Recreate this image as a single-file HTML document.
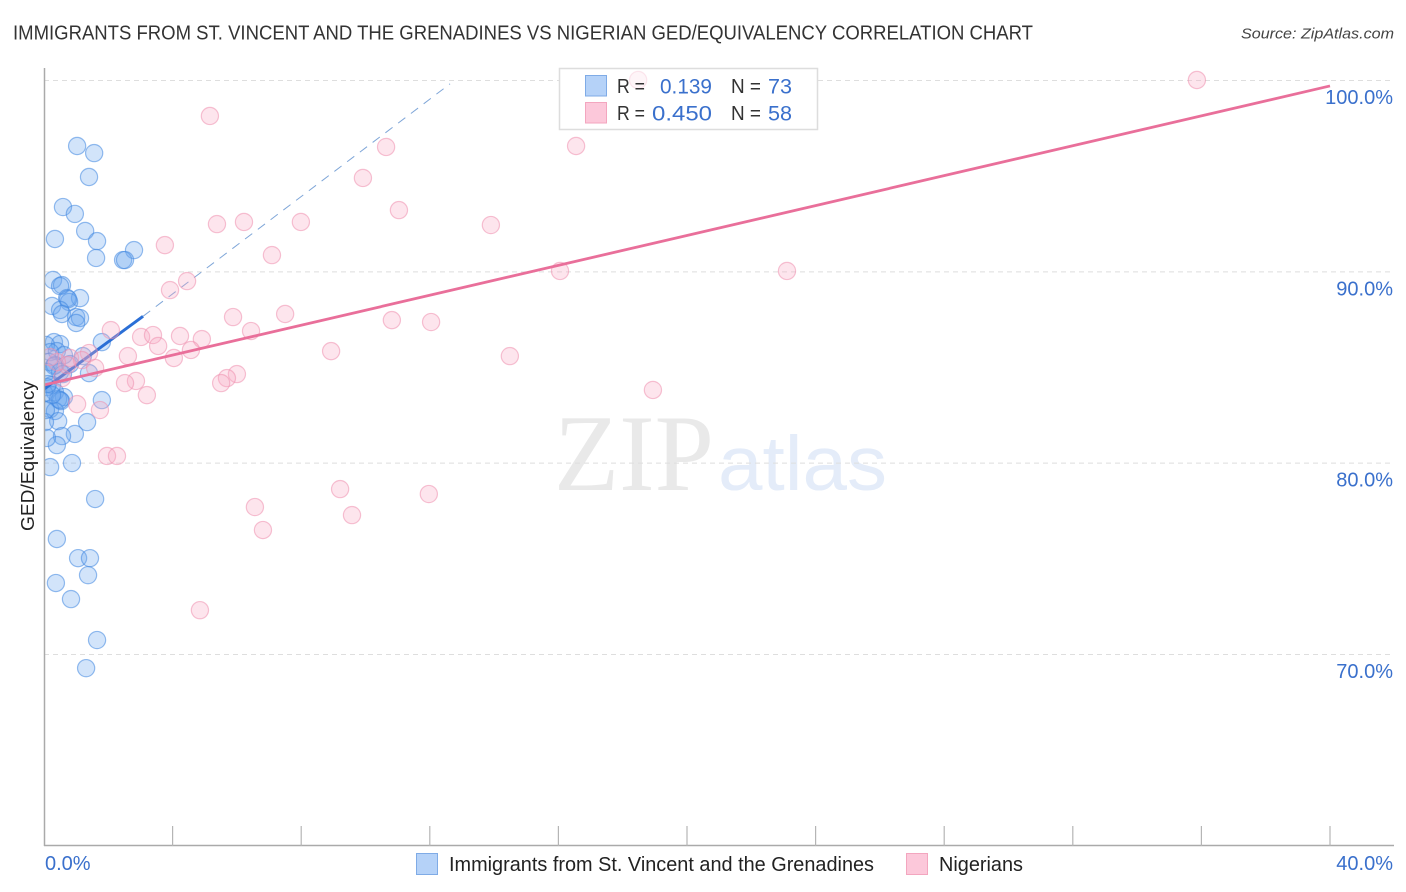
<!DOCTYPE html>
<html lang="en">
<head>
<meta charset="utf-8">
<title>GED/Equivalency Correlation Chart</title>
<style>
html,body{margin:0;padding:0;background:#fff;width:1406px;height:892px;overflow:hidden}
svg{display:block;font-family:"Liberation Sans",sans-serif}
</style>
</head>
<body>
<svg id="chart" width="1406" height="892" viewBox="0 0 1406 892" xmlns="http://www.w3.org/2000/svg">
  <rect width="1406" height="892" fill="#fff"/>
  <text x="13" y="39.5" font-size="20" fill="#333" textLength="1020" lengthAdjust="spacingAndGlyphs">IMMIGRANTS FROM ST. VINCENT AND THE GRENADINES VS NIGERIAN GED/EQUIVALENCY CORRELATION CHART</text>
  <text x="1241" y="38.5" font-size="15" font-style="italic" fill="#444" textLength="153" lengthAdjust="spacingAndGlyphs">Source: ZipAtlas.com</text>
  <g>
    <text x="554" y="490" font-family="'Liberation Serif',serif" font-size="109" fill="#e9e9e9" textLength="160" lengthAdjust="spacingAndGlyphs">ZIP</text>
    <text x="718" y="490" font-size="77" fill="#e4ecf9" textLength="169" lengthAdjust="spacingAndGlyphs">atlas</text>
  </g>
  <g id="grid"></g>
  <rect x="559" y="68" width="259" height="62" fill="#fff"/>
  <clipPath id="plot-clip"><rect x="44" y="60" width="1350" height="786"/></clipPath>
  <g id="plot" clip-path="url(#plot-clip)"></g>
  <g id="axes"></g>
  <text transform="translate(34,531) rotate(-90)" font-size="18" fill="#222" textLength="150" lengthAdjust="spacingAndGlyphs">GED/Equivalency</text>

  <g font-size="20">
    <rect x="559.5" y="68.5" width="258" height="61" fill="#fff" fill-opacity="0.6" stroke="#ddd" stroke-width="1.5"/>
    <rect x="585.5" y="75.5" width="21" height="20.5" fill="#b5d2f8" stroke="#7fabe6"/>
    <rect x="585.5" y="102.5" width="21" height="20.5" fill="#fcc8da" stroke="#f3a6bf"/>
    <text x="617" y="93" fill="#333" textLength="28" lengthAdjust="spacingAndGlyphs">R =</text>
    <text x="660" y="93.5" fill="#3a70cc" font-size="21.5" textLength="52" lengthAdjust="spacingAndGlyphs">0.139</text>
    <text x="731" y="93" fill="#333" textLength="30" lengthAdjust="spacingAndGlyphs">N =</text>
    <text x="768" y="93.5" fill="#3a70cc" font-size="21.5" textLength="24" lengthAdjust="spacingAndGlyphs">73</text>
    <text x="617" y="120" fill="#333" textLength="28" lengthAdjust="spacingAndGlyphs">R =</text>
    <text x="652" y="120.5" fill="#3a70cc" font-size="21.5" textLength="60" lengthAdjust="spacingAndGlyphs">0.450</text>
    <text x="731" y="120" fill="#333" textLength="30" lengthAdjust="spacingAndGlyphs">N =</text>
    <text x="768" y="120.5" fill="#3a70cc" font-size="21.5" textLength="24" lengthAdjust="spacingAndGlyphs">58</text>
  </g>

  <g font-size="20" fill="#222">
    <rect x="416.5" y="853.5" width="21" height="21" fill="#b5d2f8" stroke="#7fabe6"/>
    <text x="449" y="871" textLength="425" lengthAdjust="spacingAndGlyphs">Immigrants from St. Vincent and the Grenadines</text>
    <rect x="906.5" y="853.5" width="21" height="21" fill="#fcc8da" stroke="#f3a6bf"/>
    <text x="939" y="871" textLength="84" lengthAdjust="spacingAndGlyphs">Nigerians</text>
  </g>
</svg>
<script>
const yTickValues = [100, 90, 80, 70];
const yTickLabels = ["100.0%", "90.0%", "80.0%", "70.0%"];
const xTickValues = [0, 4, 8, 12, 16, 20, 24, 28, 32, 36, 40];
const xEndLabels = ["0.0%", "40.0%"];

const immigrantsX = [1.03,1.56,1.40,0.59,0.96,1.28,0.34,1.65,2.80,1.62,2.46,2.52,0.28,0.56,0.50,0.72,1.12,0.25,0.78,0.75,0.50,0.56,1.00,1.12,1.00,1.80,0.31,0.50,0.06,0.40,0.19,0.62,1.21,0.16,0.31,0.34,0.81,0.50,0.59,1.40,0.09,0.25,0.09,0.34,0.00,0.62,0.44,1.80,0.53,0.19,0.34,1.34,0.44,0.03,0.96,0.56,0.40,0.09,0.87,0.19,1.59,0.40,1.06,1.43,1.37,0.37,0.84,1.65,1.31,0.50,0.25,0.12,0.06];
const immigrantsY = [96.55,96.18,94.93,93.36,93.00,92.11,91.69,91.58,91.11,90.70,90.59,90.59,89.55,89.28,89.23,88.60,88.60,88.19,88.40,88.55,87.98,87.77,87.61,87.56,87.30,86.30,86.30,86.20,86.15,85.83,85.78,85.62,85.57,85.26,85.05,85.10,85.15,84.74,84.63,84.68,84.74,84.06,83.95,83.69,83.64,83.43,83.32,83.27,83.22,82.80,82.70,82.12,82.17,82.12,81.50,81.39,80.92,81.29,79.98,79.77,78.10,76.01,75.01,75.01,74.12,73.71,72.87,70.73,69.26,83.27,83.53,84.11,82.75];

const nigeriansX = [18.48,35.86,5.16,16.55,10.64,9.92,11.04,6.22,5.38,7.99,13.90,3.76,7.09,4.45,3.92,16.05,23.11,5.88,7.50,10.82,12.04,2.08,6.44,3.02,3.39,4.23,4.91,3.55,4.57,8.93,14.49,2.61,4.04,1.40,0.81,1.18,1.59,6.00,5.69,5.51,2.86,2.52,18.94,3.20,1.03,1.74,1.96,2.27,11.97,9.21,6.56,9.58,6.81,4.85,0.56,0.72,0.40,0.19];
const nigeriansY = [100.00,100.00,98.12,96.55,96.50,94.88,93.20,92.58,92.47,92.58,92.42,91.37,90.85,89.49,89.02,90.02,90.02,87.61,87.77,87.45,87.35,86.93,86.88,86.57,86.67,86.62,86.46,86.10,85.89,85.83,85.57,85.57,85.47,85.73,85.47,85.36,84.95,84.63,84.42,84.16,84.27,84.16,83.80,83.53,83.06,82.75,80.35,80.35,78.36,78.62,77.68,77.26,76.48,72.29,84.42,85.10,85.26,85.52];

const immigrantsTrendX = [0, 3.08, 12.63];
const immigrantsTrendY = [83.85, 87.65, 99.80];
const nigeriansTrendX = [0, 40];
const nigeriansTrendY = [84.06, 99.69];

const NS = "http://www.w3.org/2000/svg";
function xScale(v){ return 44 + v * (1330 - 44) / 40; }
function yScale(v){ return 80 + (100 - v) * (654 - 80) / 30; }

function make(tag, attrs, parent){
  const el = document.createElementNS(NS, tag);
  for (const k in attrs) el.setAttribute(k, attrs[k]);
  parent.appendChild(el);
  return el;
}

const gridG = document.getElementById("grid");
const plotG = document.getElementById("plot");
const axesG = document.getElementById("axes");

yTickValues.forEach(function(v, i){
  const line = make("line", {x1:44, x2:1394, y1:yScale(v)+0.5, y2:yScale(v)+0.5, stroke:"#dedede", "stroke-width":1, "stroke-dasharray":"5 4"}, gridG);
  
  
  const label = make("text", {x:1393, y:yScale(v)+24, "text-anchor":"end", "font-size":20, fill:"#3a70cc"}, axesG);
  label.textContent = yTickLabels[i];
  
  
});

const yAxis = make("line", {x1:44.5, x2:44.5, y1:68, y2:846, stroke:"#aaa", "stroke-width":1.5}, axesG);


const xAxis = make("line", {x1:44, x2:1394, y1:845.5, y2:845.5, stroke:"#aaa", "stroke-width":1.5}, axesG);



xTickValues.forEach(function(v){
  if (v === 0) return;
  const tick = make("line", {x1:xScale(v), x2:xScale(v), y1:826, y2:846, stroke:"#b5b5b5", "stroke-width":1.2}, axesG);
  
  
});

const x0Label = make("text", {x:45, y:870, "font-size":20, fill:"#3a70cc"}, axesG);
x0Label.textContent = xEndLabels[0];


const x1Label = make("text", {x:1393, y:870, "text-anchor":"end", "font-size":20, fill:"#3a70cc"}, axesG);
x1Label.textContent = xEndLabels[1];



immigrantsX.forEach(function(v, i){
  const c = make("circle", {cx:xScale(v), cy:yScale(immigrantsY[i]), r:8.6, fill:"#6aa5ee", "fill-opacity":0.3, stroke:"#3f86e0", "stroke-opacity":0.55, "stroke-width":1.2}, plotG);
  
  
});

const blueDash = make("line", {x1:xScale(immigrantsTrendX[1]), y1:yScale(immigrantsTrendY[1]), x2:xScale(immigrantsTrendX[2]), y2:yScale(immigrantsTrendY[2]), stroke:"#7fa6d8", "stroke-width":1, "stroke-dasharray":"9 7"}, plotG);


const blueTrend = make("line", {x1:xScale(immigrantsTrendX[0]), y1:yScale(immigrantsTrendY[0]), x2:xScale(immigrantsTrendX[1]), y2:yScale(immigrantsTrendY[1]), stroke:"#2b6fd6", "stroke-width":3}, plotG);



nigeriansX.forEach(function(v, i){
  const c = make("circle", {cx:xScale(v), cy:yScale(nigeriansY[i]), r:8.6, fill:"#f8a8c2", "fill-opacity":0.3, stroke:"#ee8fae", "stroke-opacity":0.55, "stroke-width":1.2}, plotG);
  
  
});

const pinkTrend = make("line", {x1:xScale(nigeriansTrendX[0]), y1:yScale(nigeriansTrendY[0]), x2:xScale(nigeriansTrendX[1]), y2:yScale(nigeriansTrendY[1]), stroke:"#e96f9a", "stroke-width":2.8}, plotG);


</script>
</body>
</html>
